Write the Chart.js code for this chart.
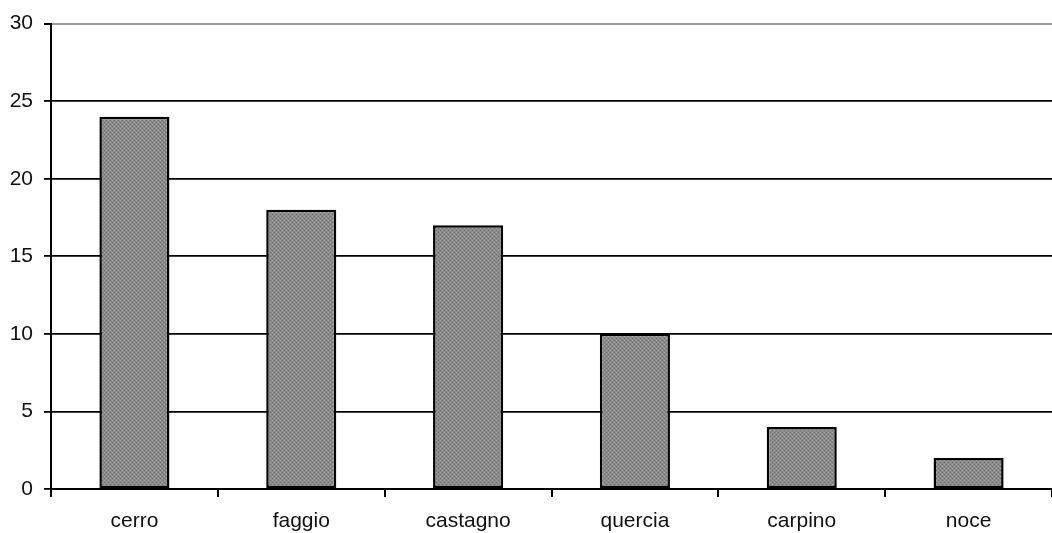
<!DOCTYPE html>
<html>
<head>
<meta charset="utf-8">
<script src="https://cdn.jsdelivr.net/npm/chart.js@4/dist/chart.umd.min.js"></script>
<style>
  html, body { margin: 0; padding: 0; background: #fff; }
  #wrap { width: 1052px; height: 533px; }
</style>
</head>
<body>
<div id="wrap"><canvas id="c" width="1052" height="533"></canvas></div>
<script>
// Tree species and their counts
const categories = ['cerro', 'faggio', 'castagno', 'quercia', 'carpino', 'noce'];
const counts = [24, 18, 17, 10, 4, 2];
const yTicks = [0, 5, 10, 15, 20, 25, 30];

// Small stippled grey fill for the bars
function stipple() {
  const p = document.createElement('canvas');
  p.width = 4; p.height = 4;
  const g = p.getContext('2d');
  g.fillStyle = '#8a8a8a';
  g.fillRect(0, 0, 4, 4);
  g.fillStyle = '#a2a2a2';
  g.fillRect(0, 0, 1, 1);
  g.fillRect(2, 2, 1, 1);
  g.fillStyle = '#727272';
  g.fillRect(2, 0, 1, 1);
  g.fillRect(0, 2, 1, 1);
  return g.createPattern(p, 'repeat');
}

const labelFont = { family: 'Liberation Sans, Arial, sans-serif', size: 21 };

const ctx = document.getElementById('c').getContext('2d');
new Chart(ctx, {
  type: 'bar',
  data: {
    labels: categories,
    datasets: [{
      data: counts,
      backgroundColor: stipple(),
      borderColor: '#000',
      borderWidth: 2.5,
      borderSkipped: false,
      categoryPercentage: 0.42,
      barPercentage: 1.0
    }]
  },
  options: {
    responsive: false,
    animation: false,
    devicePixelRatio: 1,
    layout: { padding: { top: 23, right: 0, left: 0, bottom: 0 } },
    plugins: { legend: { display: false }, tooltip: { enabled: false } },
    scales: {
      x: {
        offset: true,
        grid: {
          offset: true,
          drawOnChartArea: false,
          drawTicks: true,
          tickLength: 8,
          color: '#000',
          lineWidth: 2
        },
        border: { display: true, color: '#000', width: 2 },
        ticks: {
          color: '#111',
          font: labelFont,
          padding: 12
        },
        afterFit(scale) { scale.height = 44; }
      },
      y: {
        min: 0,
        max: 30,
        afterBuildTicks(scale) { scale.ticks = yTicks.map(v => ({ value: v })); },
        grid: {
          color: c => (c.tick && c.tick.value === 30) ? '#9a9a9a' : '#000',
          lineWidth: c => (c.tick && c.tick.value === 30) ? 2 : 1.8,
          tickLength: 7,
          tickColor: '#000'
        },
        border: { display: true, color: '#000', width: 2 },
        ticks: {
          color: '#111',
          font: labelFont,
          padding: 11
        },
        afterFit(scale) { scale.width = 51; }
      }
    }
  }
});
</script>
</body>
</html>
